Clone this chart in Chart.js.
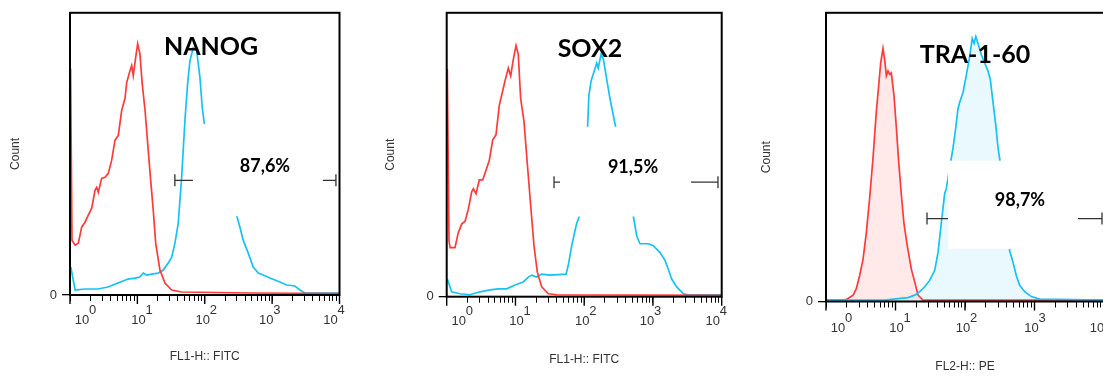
<!DOCTYPE html>
<html>
<head>
<meta charset="utf-8">
<script src="https://cdn.jsdelivr.net/npm/chart.js@4.4.1/dist/chart.umd.min.js"></script>
<style>
  html, body { margin: 0; padding: 0; background: #fff; overflow: hidden; }
  body { width: 1103px; height: 376px; position: relative; }
  canvas { position: absolute; top: 0; }
</style>
</head>
<body>
<canvas id="nanogChart" width="370" height="376" style="left:0"></canvas>
<canvas id="sox2Chart" width="368" height="376" style="left:372px"></canvas>
<canvas id="traChart" width="370" height="376" style="left:742px"></canvas>
<script>
// Fluorescence intensity (log axis) and event counts.
// "control" = red isotype curve, "sample" = blue stained curve.
const decadeExponents = [0, 1, 2, 3, 4];

const nanogControlX = [1.02, 1.07, 1.19, 1.33, 1.49, 1.67, 1.87, 2.10, 2.35, 2.49, 2.63, 2.95, 3.31, 3.70, 4.15, 4.65, 5.21, 5.85, 6.55, 6.94, 7.77, 8.23, 8.69, 9.43, 10.1, 10.9, 11.8, 13.0, 14.5, 15.9, 17.2, 18.7, 21.6, 25.7, 32.3, 45.4, 468, 10000];
const nanogControlY = [227, 55, 50, 52, 68, 73, 80, 87, 105, 108, 103, 117, 118, 122, 135, 155, 160, 185, 197, 213, 225, 230, 220, 238, 252, 242, 212, 185, 145, 112, 85, 52, 25, 12, 5, 3, 2, 1.5];
const nanogSampleX = [1.03, 1.19, 1.67, 2.60, 3.66, 5.15, 7.26, 9.21, 10.9, 12.2, 13.7, 16.3, 20.4, 24.2, 28.7, 32.3, 36.1, 40.4, 45.4, 50.8, 55.7, 60.3, 67.5, 75.8, 84.9, 91.8, 98.4, 303, 333, 372, 442, 524, 622, 738, 927, 1305, 1641, 2178, 2585, 3067, 4074, 10000];
const nanogSampleY = [28, 5, 6, 6, 8, 12, 16, 17, 18, 22, 20, 21, 22, 25, 32, 38, 52, 72, 118, 175, 212, 235, 248, 245, 218, 188, 172, 78, 68, 55, 42, 28, 22, 20, 17, 13, 10, 9, 5, 2, 2, 2];

const sox2ControlX = [1.02, 1.08, 1.12, 1.32, 1.47, 1.65, 1.85, 2.06, 2.31, 2.44, 2.67, 2.98, 3.34, 3.73, 4.17, 4.67, 5.21, 5.82, 6.53, 7.05, 7.87, 8.53, 9.31, 10.2, 11.0, 11.9, 13.3, 14.9, 16.7, 18.6, 20.8, 24.1, 30.1, 39.8, 10000];
const sox2ControlY = [232, 57, 50, 50, 65, 74, 77, 89, 107, 110, 105, 119, 119, 129, 139, 160, 165, 195, 210, 220, 233, 225, 242, 256, 247, 202, 179, 135, 92, 52, 25, 10, 3, 2, 1.5];
const sox2SampleX = [1.02, 1.18, 1.56, 2.18, 3.05, 4.26, 5.63, 7.46, 9.85, 13.0, 15.4, 17.2, 20.4, 24.1, 31.8, 54.4, 58.7, 65.8, 77.8, 84.9, 112, 117, 126, 140, 152, 160, 176, 190, 212, 237, 265, 287, 518, 580, 648, 856, 1012, 1267, 1497, 1672, 1874, 2215, 2765, 3269, 10000];
const sox2SampleY = [18, 5, 3, 2, 5, 7, 8, 8, 12, 15, 20, 22, 20, 23, 22, 23, 32, 52, 75, 82, 173, 205, 220, 230, 238, 233, 247, 242, 222, 202, 185, 173, 82, 62, 54, 54, 52, 45, 37, 28, 18, 10, 3, 2, 2];

const traControlX = [1.0, 1.88, 2.07, 2.45, 2.73, 3.05, 3.41, 3.80, 4.26, 4.75, 5.29, 5.73, 6.12, 6.61, 6.99, 7.38, 7.80, 8.26, 8.70, 9.51, 10.3, 11.1, 12.1, 13.2, 14.8, 16.9, 18.9, 21.1, 24.9, 10000];
const traControlY = [1.5, 1.5, 3, 6.5, 13, 26.5, 43, 70, 106.5, 146.5, 193, 220, 243, 258, 246.5, 230, 235, 231.5, 233, 210, 176.5, 143, 110, 80, 56.5, 33, 20, 6.5, 1.5, 1.5];
const traSampleX = [1.0, 7.0, 10.9, 15.1, 18.9, 22.3, 26.3, 31.0, 36.6, 40.9, 45.6, 51.0, 53.8, 67.2, 72.5, 79.2, 83.9, 93.6, 104, 117, 127, 135, 143, 154, 172, 192, 214, 231, 253, 277, 299, 316, 440, 491, 547, 612, 723, 900, 1189, 10000];
const traSampleY = [1.5, 1.5, 3, 4, 6.5, 10, 15, 21.5, 31.5, 50, 80, 110, 115, 156.5, 173.5, 196.5, 203, 213, 230, 250, 268, 263, 270, 263, 251.5, 243, 235, 226.5, 203, 180, 156.5, 145, 51.5, 40, 26.5, 16.5, 10, 5, 2.5, 1.5];

const panelTitles = ['NANOG', 'SOX2', 'TRA-1-60'];
const gatePercents = ['87,6%', '91,5%', '98,7%'];
const channelTitles = ['FL1-H:: FITC', 'FL1-H:: FITC', 'FL2-H:: PE'];

const RED = '#ff3a3a';
const BLUE = '#16c2f5';
const LABEL_FONT = '"Liberation Sans", Arial, sans-serif';
const BOLD_FONT = 'Lato, "Open Sans", sans-serif';

function toPoints(xs, ys) {
    return xs.map((x, i) => ({ x: x, y: ys[i] }));
}

// every 1..9 x 10^k tick of the log axis, decades flagged as major
function decadeTicks() {
    const ticks = [];
    decadeExponents.forEach((e, i) => {
        const base = Math.pow(10, e);
        const steps = i === decadeExponents.length - 1 ? 1 : 9;
        for (let s = 1; s <= steps; s++) {
            ticks.push({ value: s * base, major: s === 1 });
        }
    });
    return ticks;
}

function decorPlugin(cfg) {
    return {
        id: 'panelDecor',
        afterDatasetsDraw(chart) {
            const { ctx, scales: { x, y } } = chart;
            ctx.save();
            // gate marker
            const gy = y.getPixelForValue(cfg.gateLevel);
            const g1 = x.getPixelForValue(cfg.gate[0]);
            const g2 = x.getPixelForValue(cfg.gate[1]);
            ctx.strokeStyle = '#333';
            ctx.lineWidth = 1.3;
            ctx.beginPath();
            ctx.moveTo(g1, gy); ctx.lineTo(g2, gy);
            ctx.moveTo(g1, gy - 6); ctx.lineTo(g1, gy + 6);
            ctx.moveTo(g2, gy - 6); ctx.lineTo(g2, gy + 6);
            ctx.stroke();

            // white label patch pasted over the plot
            const bx1 = x.getPixelForValue(cfg.patchX[0]);
            const bx2 = x.getPixelForValue(cfg.patchX[1]);
            const by1 = y.getPixelForValue(cfg.patchY[1]);
            const by2 = y.getPixelForValue(cfg.patchY[0]);
            ctx.fillStyle = '#fff';
            ctx.fillRect(bx1, by1, bx2 - bx1, by2 - by1);

            ctx.fillStyle = '#000';
            ctx.textAlign = 'center';
            ctx.textBaseline = 'middle';
            ctx.font = 'bold 18px ' + BOLD_FONT;
            ctx.fillText(cfg.percent, x.getPixelForValue(cfg.percentAt[0]), y.getPixelForValue(cfg.percentAt[1]));
            ctx.font = 'bold 25px ' + BOLD_FONT;
            ctx.fillText(cfg.title, x.getPixelForValue(cfg.titleAt[0]), y.getPixelForValue(cfg.titleAt[1]));
            ctx.restore();
        },
        afterDraw(chart) {
            const { ctx, chartArea: a, scales: { x } } = chart;
            ctx.save();
            ctx.strokeStyle = '#000';
            ctx.lineWidth = 2;
            ctx.strokeRect(a.left, a.top, a.right - a.left, a.bottom - a.top);

            // longer decade ticks + "10^n" labels
            ctx.lineWidth = 1.4;
            ctx.fillStyle = '#333';
            ctx.textBaseline = 'middle';
            decadeExponents.forEach((e, i) => {
                const px = x.getPixelForValue(Math.pow(10, e));
                ctx.beginPath();
                ctx.moveTo(px, a.bottom);
                ctx.lineTo(px, a.bottom + 9);
                ctx.stroke();
                const cx = px + cfg.labelShift[i];
                const cy = a.bottom + cfg.labelDy;
                ctx.font = '13px ' + LABEL_FONT;
                ctx.textAlign = 'center';
                ctx.fillText('10', cx, cy);
                ctx.textAlign = 'left';
                ctx.fillText(String(e), cx + 7, cy - 10);
            });
            ctx.restore();
        }
    };
}

function makePanel(canvasId, cfg) {
    return new Chart(document.getElementById(canvasId), {
        type: 'line',
        data: {
            datasets: [{
                data: toPoints(cfg.controlX, cfg.controlY),
                borderColor: RED,
                borderWidth: 1.7,
                backgroundColor: cfg.filled ? 'rgba(255, 70, 70, 0.12)' : 'transparent',
                fill: cfg.filled ? 'origin' : false,
                pointRadius: 0,
                tension: 0,
                order: cfg.filled ? 2 : 1
            }, {
                data: toPoints(cfg.sampleX, cfg.sampleY),
                borderColor: BLUE,
                borderWidth: 1.7,
                backgroundColor: cfg.filled ? 'rgba(60, 200, 245, 0.11)' : 'transparent',
                fill: cfg.filled ? 'origin' : false,
                pointRadius: 0,
                tension: 0,
                order: cfg.filled ? 1 : 2
            }]
        },
        options: {
            responsive: false,
            animation: false,
            events: [],
            layout: { padding: cfg.padding },
            plugins: {
                legend: { display: false },
                tooltip: { enabled: false }
            },
            scales: {
                x: {
                    type: 'logarithmic',
                    min: 1,
                    max: 10000,
                    afterBuildTicks: (scale) => { scale.ticks = decadeTicks(); },
                    afterFit: (scale) => { scale.height = cfg.xAxisHeight; },
                    grid: { drawOnChartArea: false, drawTicks: true, tickLength: 6, color: '#000', lineWidth: 1 },
                    border: { display: false },
                    ticks: { display: false },
                    title: {
                        display: true,
                        text: cfg.xTitle,
                        color: '#333',
                        padding: 0,
                        font: { family: LABEL_FONT, size: 12 }
                    }
                },
                y: {
                    min: 0,
                    max: cfg.yMax,
                    afterBuildTicks: (scale) => { scale.ticks = [{ value: 0 }]; },
                    afterFit: (scale) => { scale.width = cfg.yAxisWidth; },
                    grid: { drawOnChartArea: false, tickLength: 8, color: '#000', lineWidth: 1.3 },
                    border: { display: false },
                    ticks: { padding: 5, color: '#333', font: { family: LABEL_FONT, size: 13 } },
                    title: {
                        display: true,
                        text: 'Count',
                        color: '#333',
                        padding: 0,
                        font: { family: LABEL_FONT, size: 12 }
                    }
                }
            }
        },
        plugins: [decorPlugin(cfg)]
    });
}

makePanel('nanogChart', {
    controlX: nanogControlX, controlY: nanogControlY,
    sampleX: nanogSampleX, sampleY: nanogSampleY,
    filled: false, yMax: 283,
    title: panelTitles[0], percent: gatePercents[0], xTitle: channelTitles[0],
    gate: [36, 8850], gateLevel: 115,
    patchX: [66.8, 5670], patchY: [79, 171.5],
    percentAt: [782, 129], titleAt: [124, 249],
    padding: { left: 8, right: 30.5, top: 12, bottom: 11.8 },
    yAxisWidth: 62, xAxisHeight: 69.2,
    labelShift: [12, 1, -2, -6, -9], labelDy: 25
});

makePanel('sox2Chart', {
    controlX: sox2ControlX, controlY: sox2ControlY,
    sampleX: sox2SampleX, sampleY: sox2SampleY,
    filled: false, yMax: 289.4,
    title: panelTitles[1], percent: gatePercents[1], xTitle: channelTitles[1],
    gate: [36.4, 8830], gateLevel: 116.7,
    patchX: [44.5, 3575], patchY: [81.7, 173.2],
    percentAt: [513, 131.7], titleAt: [121, 252.7],
    padding: { left: 11.7, right: 18.3, top: 7.3, bottom: 8.8 },
    yAxisWidth: 63, xAxisHeight: 70.5,
    labelShift: [12, 1, -2, -6, -9], labelDy: 25
});

makePanel('traChart', {
    controlX: traControlX, controlY: traControlY,
    sampleX: traSampleX, sampleY: traSampleY,
    filled: true, yMax: 294.2,
    title: panelTitles[2], percent: gatePercents[2], xTitle: channelTitles[2],
    gate: [28.4, 9360], gateLevel: 84.5,
    patchX: [56.9, 4225], patchY: [53.5, 143.5],
    percentAt: [618, 103.5], titleAt: [139, 251.5],
    padding: { left: 17, right: 8, top: 7.3, bottom: 1.8 },
    yAxisWidth: 67, xAxisHeight: 72.7,
    labelShift: [12, 1, -2, -3, -7], labelDy: 26.5
});
</script>
</body>
</html>
